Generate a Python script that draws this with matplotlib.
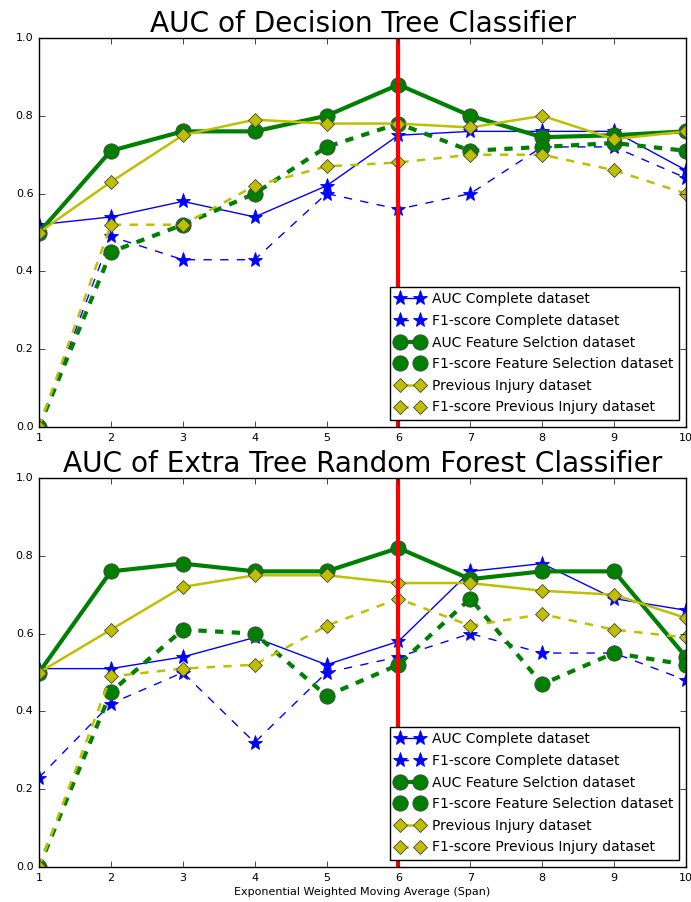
import matplotlib

matplotlib.use("Agg")

import matplotlib.pyplot as plt  # noqa: E402

plt.style.use("classic")

# ── data ───────────────────────────────────────────────────────────────────────

spans = [1, 2, 3, 4, 5, 6, 7, 8, 9, 10]
best_span = 6

# Decision Tree
dt_auc_complete = [0.52, 0.54, 0.58, 0.54, 0.62, 0.75, 0.76, 0.76, 0.76, 0.66]
dt_f1_complete = [0.0, 0.49, 0.43, 0.43, 0.60, 0.56, 0.60, 0.72, 0.72, 0.64]
dt_auc_fs = [0.50, 0.71, 0.76, 0.76, 0.80, 0.88, 0.80, 0.745, 0.75, 0.76]
dt_f1_fs = [0.0, 0.45, 0.52, 0.60, 0.72, 0.78, 0.71, 0.72, 0.73, 0.71]
dt_auc_pi = [0.50, 0.63, 0.75, 0.79, 0.78, 0.78, 0.77, 0.80, 0.74, 0.76]
dt_f1_pi = [0.0, 0.52, 0.52, 0.62, 0.67, 0.68, 0.70, 0.70, 0.66, 0.60]

# Extra Tree Random Forest
et_auc_complete = [0.51, 0.51, 0.54, 0.59, 0.52, 0.58, 0.76, 0.78, 0.69, 0.66]
et_f1_complete = [0.23, 0.42, 0.50, 0.32, 0.50, 0.54, 0.60, 0.55, 0.55, 0.48]
et_auc_fs = [0.50, 0.76, 0.78, 0.76, 0.76, 0.82, 0.74, 0.76, 0.76, 0.54]
et_f1_fs = [0.0, 0.45, 0.61, 0.60, 0.44, 0.52, 0.69, 0.47, 0.55, 0.52]
et_auc_pi = [0.50, 0.61, 0.72, 0.75, 0.75, 0.73, 0.73, 0.71, 0.70, 0.64]
et_f1_pi = [0.0, 0.49, 0.51, 0.52, 0.62, 0.69, 0.62, 0.65, 0.61, 0.59]

labels = [
    "AUC Complete dataset",
    "F1-score Complete dataset",
    "AUC Feature Selction dataset",
    "F1-score Feature Selection dataset",
    "Previous Injury dataset",
    "F1-score Previous Injury dataset",
]

# ── styles ─────────────────────────────────────────────────────────────────────

_STYLES = [
    dict(color="b", ls="-", lw=1.0, marker="*", ms=11),
    dict(color="b", ls="--", lw=1.0, marker="*", ms=11),
    dict(color="g", ls="-", lw=3.0, marker="o", ms=11),
    dict(color="g", ls="--", lw=3.0, marker="o", ms=11),
    dict(color="y", ls="-", lw=1.8, marker="D", ms=7),
    dict(color="y", ls="--", lw=1.8, marker="D", ms=7),
]


def _panel(ax, series, title):
    for ys, label, st in zip(series, labels, _STYLES):
        edge = st["color"] if st["marker"] == "*" else "#444444"
        ax.plot(spans, ys, label=label, markeredgecolor=edge, markeredgewidth=0.6, **st)
    ax.axvline(best_span, color="r", lw=3)
    ax.set_xlim(1, 10)
    ax.set_ylim(0, 1)
    ax.set_xticks(spans)
    ax.set_yticks([0.0, 0.2, 0.4, 0.6, 0.8, 1.0])
    ax.tick_params(labelsize=8)
    ax.set_title(title, fontsize=20.2, pad=4)
    ax.legend(loc="lower right", fontsize=10, numpoints=2, handlelength=2.0,
              handletextpad=0.6, borderaxespad=0.5, labelspacing=0.55,
              borderpad=0.4, fancybox=False)


fig = plt.figure(figsize=(6.91, 9.02), dpi=100, facecolor="white")
ax1 = fig.add_axes([39 / 691, 1 - 427 / 902, 647 / 691, 389 / 902])
ax2 = fig.add_axes([39 / 691, 1 - 867 / 902, 647 / 691, 389 / 902])

_panel(ax1, [dt_auc_complete, dt_f1_complete, dt_auc_fs, dt_f1_fs, dt_auc_pi, dt_f1_pi],
       "AUC of Decision Tree Classifier")
_panel(ax2, [et_auc_complete, et_f1_complete, et_auc_fs, et_f1_fs, et_auc_pi, et_f1_pi],
       "AUC of Extra Tree Random Forest Classifier")
ax2.set_xlabel("Exponential Weighted Moving Average (Span)", fontsize=8, labelpad=3)

fig.savefig("out.png", dpi=100, facecolor="white")
